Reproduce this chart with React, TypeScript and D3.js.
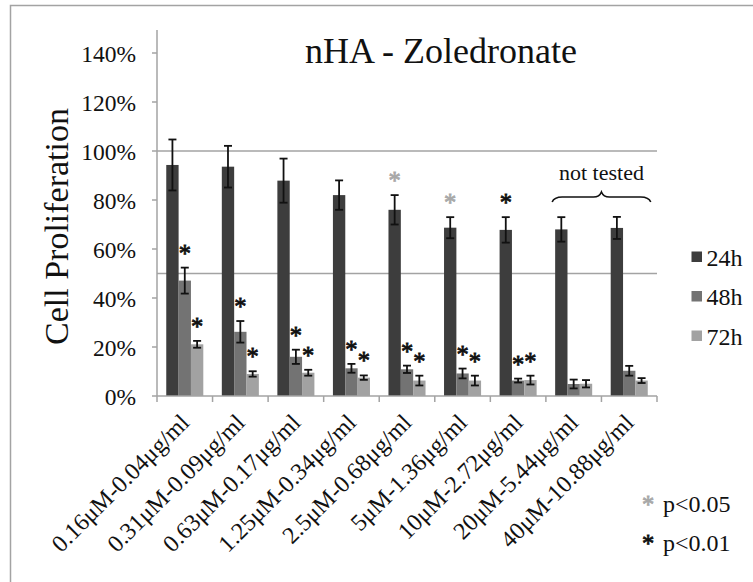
import React from "react";
import * as d3 from "d3";

const categories = [
  "0.16μM-0.04μg/ml",
  "0.31μM-0.09μg/ml",
  "0.63μM-0.17μg/ml",
  "1.25μM-0.34μg/ml",
  "2.5μM-0.68μg/ml",
  "5μM-1.36μg/ml",
  "10μM-2.72μg/ml",
  "20μM-5.44μg/ml",
  "40μM-10.88μg/ml",
];
const seriesNames = ["24h", "48h", "72h"];
const values24 = [94.3, 93.6, 87.9, 82, 76, 68.7, 67.8, 68, 68.6];
const errors24 = [10.4, 8.5, 9, 6, 6, 4.3, 5.2, 5, 4.5];
const values48 = [47.1, 26.2, 16, 11.3, 10.9, 9.2, 6.3, 4.9, 10.3];
const errors48 = [5.3, 4.4, 2.9, 1.8, 1.5, 2, 0.8, 1.8, 2];
const values72 = [21.1, 9, 9.5, 7.5, 6.3, 6.3, 6.5, 5, 6.3];
const errors72 = [1.4, 1.1, 1.2, 0.9, 2, 2, 1.8, 1.5, 1];
const yTicks = [0, 20, 40, 60, 80, 100, 120, 140];
const refLines = [100, 50];
// significance markers: [category index, series index, level]
const stars: [number, number, string][] = [
  [4, 0, "p05"], [5, 0, "p05"], [6, 0, "p01"],
  [0, 1, "p01"], [1, 1, "p01"], [2, 1, "p01"], [3, 1, "p01"], [4, 1, "p01"], [5, 1, "p01"], [6, 1, "p01"],
  [0, 2, "p01"], [1, 2, "p01"], [2, 2, "p01"], [3, 2, "p01"], [4, 2, "p01"], [5, 2, "p01"], [6, 2, "p01"],
];
const notTestedFrom = 7;
const notTestedTo = 8;
const sigLegend = [
  { key: "p05", label: "p<0.05" },
  { key: "p01", label: "p<0.01" },
];

const FONT = '"Liberation Serif", "Tinos", "Times New Roman", "DejaVu Serif", serif';
const seriesColors = ["#3d3d3d", "#737373", "#a2a2a2"];
const starColors: Record<string, string> = { p05: "#a8a8a8", p01: "#111111" };
const axisColor = "#a3a3a3";

export default function App() {
  const W = 753, H = 582;
  const left = 157, right = 657, bottom = 396;
  const y = d3.scaleLinear().domain([0, 150]).range([bottom, bottom - 1.5 * 245]);
  const x0 = d3.scaleBand().domain(categories).range([left, right]).padding(0);
  const bw = x0.bandwidth();
  const barW = bw / 4.5;
  const x1 = d3.scaleBand().domain(seriesNames).range([barW * 0.75, bw - barW * 0.75]).padding(0);
  const vals = [values24, values48, values72];
  const errs = [errors24, errors48, errors72];

  const cx = (ci: number, si: number) => (x0(categories[ci]) as number) + (x1(seriesNames[si]) as number) + x1.bandwidth() / 2;

  const ntL = (x0(categories[notTestedFrom]) as number) + (x1("24h") as number) - 3;
  const ntR = (x0(categories[notTestedTo]) as number) + bw - barW * 0.75 + 3;
  const ntC = (ntL + ntR) / 2;
  const by = 197;
  const bracePath = `M${ntL},${by + 5} Q${ntL + 2},${by} ${ntL + 10},${by} L${ntC - 8},${by} Q${ntC - 2},${by} ${ntC},${by - 5} Q${ntC + 2},${by} ${ntC + 8},${by} L${ntR - 10},${by} Q${ntR - 2},${by} ${ntR},${by + 5}`;

  const txt = { fontFamily: FONT };

  return (
    <svg width={W} height={H} style={{ position: "absolute", left: 0, top: 0, background: "#fff", fontFamily: FONT }}>
      <rect x={0} y={0} width={W} height={H} fill="#fff" />
      <path d={`M10.5,${H} L10.5,5.5 L${W},5.5`} fill="none" stroke={axisColor} strokeWidth={1.5} />

      {refLines.map((r) => (
        <line key={r} x1={left} x2={right} y1={y(r)} y2={y(r)} stroke={axisColor} strokeWidth={1.3} />
      ))}

      {vals.map((arr, si) =>
        arr.map((v, ci) => (
          <rect
            key={`b${si}-${ci}`}
            x={(x0(categories[ci]) as number) + (x1(seriesNames[si]) as number)}
            y={y(v)}
            width={x1.bandwidth()}
            height={bottom - y(v)}
            fill={seriesColors[si]}
          />
        ))
      )}

      {vals.map((arr, si) =>
        arr.map((v, ci) => {
          const c = cx(ci, si);
          const t = y(v + errs[si][ci]);
          const b = y(v - errs[si][ci]);
          return (
            <g key={`e${si}-${ci}`} stroke="#111" strokeWidth={1.8}>
              <line x1={c} x2={c} y1={t} y2={b} />
              <line x1={c - 4} x2={c + 4} y1={t} y2={t} />
              <line x1={c - 4} x2={c + 4} y1={b} y2={b} />
            </g>
          );
        })
      )}

      <g opacity={0.999}>
        {stars.map(([ci, si, lvl], i) => {
          const t = y(vals[si][ci] + errs[si][ci]);
          return (
            <text key={`s${i}`} x={cx(ci, si)} y={t - 6} textAnchor="middle" fontSize={24.5} fill={starColors[lvl]} stroke={starColors[lvl]} strokeWidth={0.8} style={txt}>
              *
            </text>
          );
        })}
      </g>

      <line x1={left} x2={left} y1={30} y2={bottom} stroke={axisColor} strokeWidth={1.5} />
      <line x1={left} x2={right} y1={bottom} y2={bottom} stroke={axisColor} strokeWidth={1.5} />
      {yTicks.map((t) => (
        <g key={`yt${t}`}>
          <line x1={left - 5} x2={left} y1={y(t)} y2={y(t)} stroke={axisColor} strokeWidth={1.5} />
          <text x={136} y={y(t) + 9} textAnchor="end" fontSize={23.5} fill="#111" style={txt}>
            {t}%
          </text>
        </g>
      ))}
      {categories.map((c, i) => (
        <line key={`xt${i}`} x1={x0(c) as number} x2={x0(c) as number} y1={bottom} y2={bottom + 6} stroke={axisColor} strokeWidth={1.5} />
      ))}
      <line x1={right} x2={right} y1={bottom} y2={bottom + 6} stroke={axisColor} strokeWidth={1.5} />
      {categories.map((c, i) => {
        const px = (x0(c) as number) + bw / 2 + 6;
        const py = 424;
        return (
          <text key={`xl${i}`} transform={`translate(${px},${py}) rotate(-45)`} textAnchor="end" fontSize={24} fill="#111" style={txt}>
            {c}
          </text>
        );
      })}

      <text transform="translate(68,226.5) rotate(-90)" textAnchor="middle" fontSize={34} fill="#111" style={txt}>
        Cell Proliferation
      </text>

      <text x={441} y={63} textAnchor="middle" fontSize={36} fill="#111" style={txt}>
        nHA - Zoledronate
      </text>

      <text x={ntC} y={179.5} textAnchor="middle" fontSize={22} fill="#111" style={txt}>
        not tested
      </text>
      <path d={bracePath} fill="none" stroke="#111" strokeWidth={1.6} />

      {seriesNames.map((s, i) => {
        const ly = 257 + i * 39.5;
        return (
          <g key={`lg${s}`}>
            <rect x={691.5} y={ly - 5.5} width={10.5} height={10.5} fill={seriesColors[i]} />
            <text x={706.5} y={ly + 8.5} fontSize={24} fill="#111" style={txt}>
              {s}
            </text>
          </g>
        );
      })}

      <g opacity={0.999}>
        {sigLegend.map((s, i) => {
          const ly = 511.5 + i * 39.3;
          return (
            <g key={`sl${s.key}`}>
              <text x={648} y={ly + 1} textAnchor="middle" fontSize={24.5} fill={starColors[s.key]} stroke={starColors[s.key]} strokeWidth={0.8} style={txt}>
                *
              </text>
              <text x={663} y={ly} fontSize={24} fill="#111" style={txt}>
                {s.label}
              </text>
            </g>
          );
        })}
      </g>
    </svg>
  );
}
